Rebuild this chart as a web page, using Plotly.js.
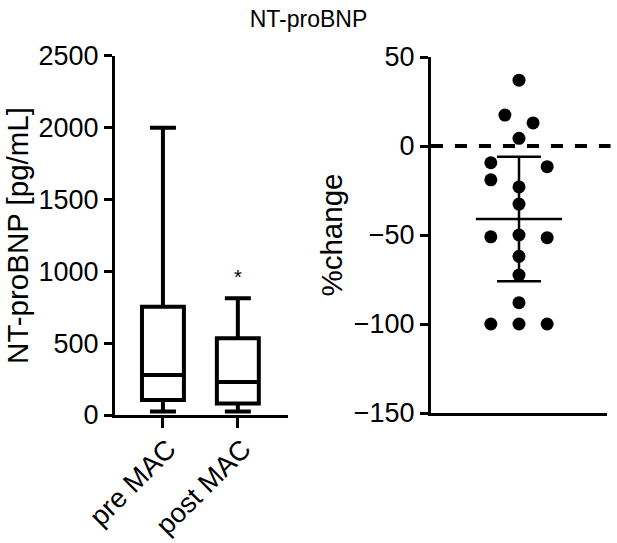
<!DOCTYPE html>
<html>
<head>
<meta charset="utf-8">
<script src="https://cdn.plot.ly/plotly-3.0.1.min.js"></script>
<style>
  html, body { margin: 0; padding: 0; background: #fff; }
  #chart { width: 617px; height: 543px; }
</style>
</head>
<body>
<div id="chart"></div>
<script>
// box summary (left panel)
const groups = ["pre MAC", "post MAC"];
const boxMin = [25, 25];
const boxQ1 = [104, 81];
const boxMedian = [278, 230];
const boxQ3 = [753, 535];
const boxMax = [2000, 813];

// % change (right panel), x = horizontal jitter of each dot
const changeX = [0, -0.16, 0.16, 0, -0.32, 0.32, -0.32, 0, 0, -0.32, 0, 0.32, 0, 0, 0, -0.32, 0, 0.32];
const changeY = [37, 17.4, 13, 4.3, -9.4, -11.6, -19, -23, -32.6, -51, -50, -51.5, -62, -72.5, -88, -100, -100, -100];
const changeMean = [-41];
const changeSD = [35];

const FONT = "Liberation Sans, Arial, Helvetica, sans-serif";
const black = "#000";

const traces = [
  {
    type: "box",
    x: groups,
    q1: boxQ1,
    median: boxMedian,
    q3: boxQ3,
    lowerfence: boxMin,
    upperfence: boxMax,
    width: 0.56,
    whiskerwidth: 0.62,
    fillcolor: "rgba(0,0,0,0)",
    line: { color: black, width: 4 },
    xaxis: "x",
    yaxis: "y",
    hoverinfo: "skip",
    showlegend: false
  },
  {
    type: "scatter",
    mode: "markers",
    x: changeX,
    y: changeY,
    marker: { color: black, size: 13 },
    xaxis: "x2",
    yaxis: "y2",
    showlegend: false
  },
  {
    // mean line with SD whiskers
    type: "scatter",
    mode: "markers",
    x: [0],
    y: changeMean,
    marker: { size: 0.1, color: "rgba(0,0,0,0)" },
    error_y: { type: "data", array: changeSD, visible: true, color: black, thickness: 2.5, width: 22 },
    error_x: { type: "data", array: [0.49], visible: true, color: black, thickness: 2.5, width: 0 },
    xaxis: "x2",
    yaxis: "y2",
    showlegend: false
  }
];

const axisBase = {
  showgrid: false,
  zeroline: false,
  showline: true,
  linecolor: black,
  linewidth: 3,
  ticks: "outside",
  tickcolor: black,
  tickwidth: 3,
  tickfont: { family: FONT, size: 27, color: black }
};

const layout = {
  width: 617,
  height: 543,
  margin: { l: 0, r: 0, t: 0, b: 0 },
  paper_bgcolor: "#fff",
  plot_bgcolor: "rgba(0,0,0,0)",
  font: { family: FONT, color: black },
  title: { text: "NT-proBNP", font: { family: FONT, size: 23, color: black }, x: 0.5, xanchor: "center", y: 0.965, yanchor: "middle" },
  xaxis: Object.assign({}, axisBase, {
    domain: [0.1864, 0.4668],
    anchor: "y",
    type: "category",
    range: [-0.64, 1.67],
    ticklen: 10,
    tickangle: -45,
    ticklabelstandoff: -6,
    ticklabelshift: 5,
    tickfont: { family: FONT, size: 27.5, color: black }
  }),
  yaxis: Object.assign({}, axisBase, {
    domain: [0.2357, 0.8969],
    anchor: "x",
    range: [0, 2500],
    tickvals: [0, 500, 1000, 1500, 2000, 2500],
    ticklen: 8,
    title: { text: "NT-proBNP [pg/mL]", font: { family: FONT, size: 29.5, color: black }, standoff: 2 }
  }),
  xaxis2: Object.assign({}, axisBase, {
    domain: [0.6985, 0.9838],
    anchor: "y2",
    range: [-1, 1],
    ticks: "",
    showticklabels: false
  }),
  yaxis2: Object.assign({}, axisBase, {
    domain: [0.2394, 0.895],
    anchor: "x2",
    range: [-150, 50],
    tickvals: [-150, -100, -50, 0, 50],
    ticklen: 8,
    title: { text: "%change", font: { family: FONT, size: 29.5, color: black }, standoff: 3 }
  }),
  shapes: [
    {
      type: "line",
      xref: "x2 domain",
      yref: "y2",
      x0: 0,
      x1: 1.02,
      y0: 0,
      y1: 0,
      line: { color: black, width: 4, dash: "dash" }
    }
  ],
  annotations: [
    {
      xref: "x",
      yref: "y",
      x: "post MAC",
      y: 960,
      text: "*",
      showarrow: false,
      font: { family: FONT, size: 20, color: black }
    }
  ]
};

Plotly.newPlot("chart", traces, layout, { displayModeBar: false, staticPlot: true });
</script>
</body>
</html>
